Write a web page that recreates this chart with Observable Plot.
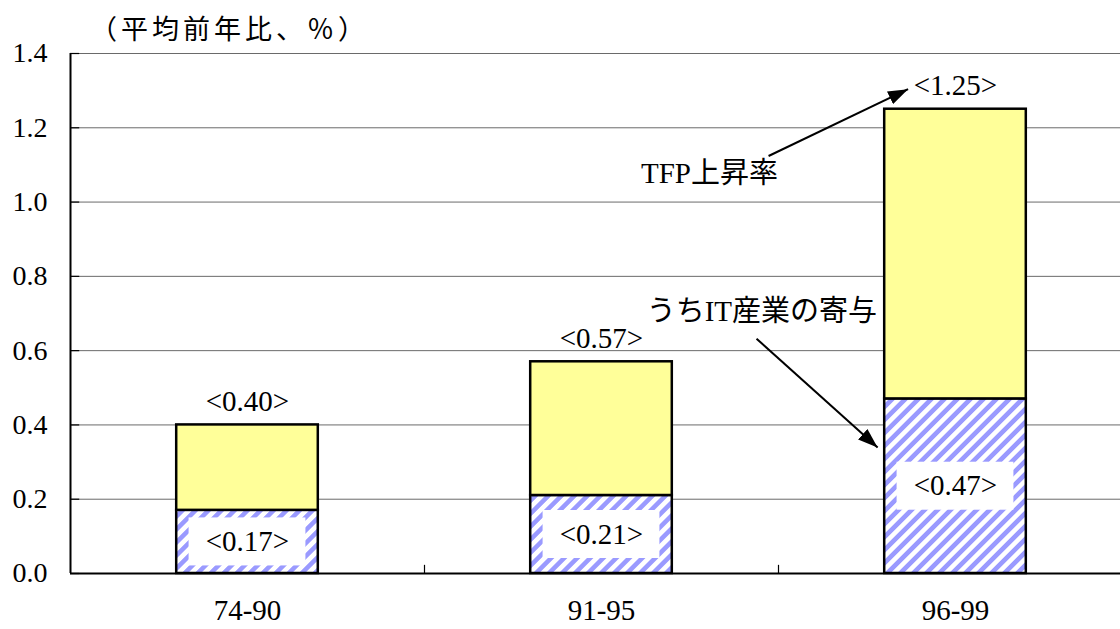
<!DOCTYPE html>
<html>
<head>
<meta charset="utf-8">
<script src="https://cdn.jsdelivr.net/npm/d3@7"></script>
<script src="https://cdn.jsdelivr.net/npm/@observablehq/plot@0.6"></script>
<style>
  body { margin: 0; background: #fff; }
  #chart { position: relative; width: 1120px; height: 629px; }
  #title {
    position: absolute; left: 90px; top: 10px;
    font-family: "Noto Sans CJK JP", sans-serif; font-size: 27px; letter-spacing: 4px;
    color: #000; line-height: 36px;
  }
  #chart svg { display: block; }
  #chart svg text { font-family: "Liberation Serif", "Noto Sans CJK JP", serif; }
</style>
</head>
<body>
<!-- shared paint servers: diagonal hatch and filled arrowhead -->
<svg width="0" height="0" style="position:absolute">
  <defs>
    <pattern id="hatch" patternUnits="userSpaceOnUse" width="9.2" height="9.2" patternTransform="rotate(45)">
      <rect width="9.2" height="9.2" fill="#fff"/>
      <rect x="0" y="0" width="4.6" height="9.2" fill="#9a9aff"/>
    </pattern>
    <marker id="head" markerUnits="userSpaceOnUse" markerWidth="22" markerHeight="14"
            refX="20" refY="7" orient="auto">
      <path d="M0,0 L20,7 L0,14 Z" fill="#000"/>
    </marker>
  </defs>
</svg>
<div id="chart"><div id="title">（平均前年比、％）</div></div>
<script>
// Average annual TFP growth and the IT-industry share of it (% y/y)
const periods = ["74-90", "91-95", "96-99"];
const tfpGrowth = [0.40, 0.57, 1.25];
const itContribution = [0.17, 0.21, 0.47];
const yTicks = [0, 0.2, 0.4, 0.6, 0.8, 1.0, 1.2, 1.4];

// Each period occupies one unit on x; the bar sits in the middle 40%.
const rows = periods.map((p, i) => ({
  period: p,
  left: i + 0.3,
  right: i + 0.7,
  boxLeft: i + 0.335,
  boxRight: i + 0.665,
  center: i + 0.5,
  tfp: tfpGrowth[i],
  it: itContribution[i]
}));

const serif = "'Liberation Serif', 'Noto Sans CJK JP', serif";

// Annotation call-outs, in data units
const callouts = [
  {text: "TFP上昇率", tx: 1.805, ty: 1.076, x1: 1.972, y1: 1.124, x2: 2.366, y2: 1.304},
  {text: "うちIT産業の寄与", tx: 1.953, ty: 0.705, x1: 1.938, y1: 0.632, x2: 2.28, y2: 0.339}
];

const chart = Plot.plot({
  width: 1120,
  height: 629,
  marginLeft: 70,
  marginRight: 0,
  marginTop: 53,
  marginBottom: 56,
  style: {fontFamily: serif, fontSize: "29px", color: "#000", background: "transparent"},
  x: {domain: [0, 3], range: [70, 1132]},
  y: {domain: [0, 1.4]},
  marks: [
    Plot.ruleY(yTicks.slice(1), {stroke: "#6a6a6a", strokeWidth: 1}),
    Plot.axisY(yTicks, {
      tickSize: 0, tickPadding: 23, fontSize: 28, fontFamily: serif,
      tickFormat: d => d.toFixed(1), label: null
    }),
    Plot.axisX(rows.map(r => r.center), {
      tickSize: 0, tickPadding: 26, fontSize: 29, fontFamily: serif,
      tickFormat: d => periods[Math.floor(d)], label: null
    }),
    // IT-industry contribution (hatched)
    Plot.rect(rows, {x1: "left", x2: "right", y1: 0, y2: "it", fill: "url(#hatch)", stroke: "#000", strokeWidth: 2.5}),
    // remainder of TFP growth (yellow)
    Plot.rect(rows, {x1: "left", x2: "right", y1: "it", y2: "tfp", fill: "#ffff99", stroke: "#000", strokeWidth: 2.5}),
    // white label boxes inside the hatched segment
    Plot.rect(rows, {x1: "boxLeft", x2: "boxRight", y1: d => d.it / 2, y2: d => d.it / 2, insetTop: -24, insetBottom: -24, fill: "#fff"}),
    Plot.text(rows, {x: "center", y: d => d.it / 2, text: d => `<${d.it.toFixed(2)}>`, fontSize: 29, fontFamily: serif}),
    Plot.text(rows, {x: "center", y: "tfp", dy: -23, text: d => `<${d.tfp.toFixed(2)}>`, fontSize: 29, fontFamily: serif}),
    // axis lines and ticks
    Plot.ruleY(yTicks, {x1: 0, x2: 0.026, stroke: "#000", strokeWidth: 1.2}),
    Plot.ruleX([1, 2, 3], {y1: 0, y2: 0.022, stroke: "#000", strokeWidth: 1.2}),
    Plot.ruleX([0], {stroke: "#000", strokeWidth: 2}),
    Plot.ruleY([0], {stroke: "#000", strokeWidth: 2}),
    // call-outs
    Plot.link(callouts, {x1: "x1", y1: "y1", x2: "x2", y2: "y2", stroke: "#000", strokeWidth: 2}),
    Plot.text(callouts, {x: "tx", y: "ty", text: "text", fontSize: 29, fontFamily: serif})
  ]
});

// filled arrowheads on the call-out links
chart.querySelectorAll('g[aria-label="link"] path').forEach(p => p.setAttribute("marker-end", "url(#head)"));
document.getElementById("chart").appendChild(chart);
</script>
</body>
</html>
